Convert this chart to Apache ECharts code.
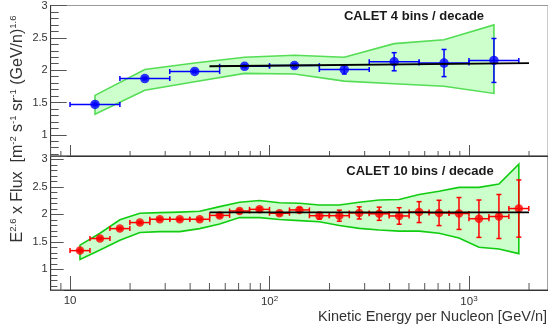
<!DOCTYPE html>
<html>
<head>
<meta charset="utf-8">
<script src="https://cdn.jsdelivr.net/npm/echarts@6/dist/echarts.min.js"></script>
<style>
  html, body { margin: 0; padding: 0; background: #fff; }
  #chart { width: 548px; height: 333px; }
</style>
</head>
<body>
<div id="chart"></div>
<script>
(function(){
  'use strict';

  const FONT = '"Liberation Sans", Arial, Helvetica, sans-serif';

  // CALET 4 bins / decade
  const topEdges = [10, 17.78, 31.62, 56.23, 100, 177.8, 316.2, 562.3, 1000, 1778];
  const topX = [13.34, 23.71, 42.17, 74.99, 133.4, 237.1, 421.7, 749.9, 1334];
  const topY = [1.47, 1.87, 1.98, 2.06, 2.07, 2.01, 2.13, 2.11, 2.15];
  const topErr = [0.02, 0.02, 0.02, 0.02, 0.03, 0.07, 0.14, 0.21, 0.34];
  const topBandHi = [1.61, 2.01, 2.11, 2.20, 2.23, 2.20, 2.41, 2.47, 2.70];
  const topBandLo = [1.32, 1.69, 1.82, 1.95, 1.94, 1.83, 1.79, 1.75, 1.64];
  const topFitX = [50, 2000];
  const topFitY = [2.06, 2.11];

  // CALET 10 bins / decade
  const botEdges = [10, 12.59, 15.85, 19.95, 25.12, 31.62, 39.81, 50.12, 63.10, 79.43,
    100, 125.9, 158.5, 199.5, 251.2, 316.2, 398.1, 501.2, 631.0, 794.3, 1000, 1259, 1585, 1995];
  const botX = [11.22, 14.13, 17.78, 22.39, 28.18, 35.48, 44.67, 56.23, 70.79, 89.13,
    112.2, 141.3, 177.8, 223.9, 281.8, 354.8, 446.7, 562.3, 707.9, 891.3, 1122, 1413, 1778];
  const botY = [1.34, 1.56, 1.74, 1.85, 1.91, 1.91, 1.91, 1.98, 2.06, 2.09,
    2.02, 2.08, 1.975, 1.975, 2.025, 2.01, 1.97, 2.04, 2.025, 2.015, 1.92, 1.96, 2.105];
  const botErr = [0.02, 0.02, 0.02, 0.02, 0.02, 0.02, 0.02, 0.03, 0.03, 0.03,
    0.03, 0.04, 0.06, 0.10, 0.11, 0.12, 0.15, 0.19, 0.23, 0.29, 0.34, 0.40, 0.52];
  const botBandHi = [1.44, 1.655, 1.90, 2.02, 2.03, 2.04, 2.055, 2.14, 2.22, 2.25,
    2.21, 2.20, 2.17, 2.17, 2.22, 2.26, 2.27, 2.36, 2.42, 2.49, 2.49, 2.55, 2.91];
  const botBandLo = [1.18, 1.35, 1.53, 1.67, 1.685, 1.685, 1.74, 1.825, 1.94, 1.94,
    1.905, 1.885, 1.865, 1.795, 1.745, 1.715, 1.695, 1.695, 1.655, 1.57, 1.40, 1.37, 1.285];
  const botFitX = [50, 2000];
  const botFitY = [2.035, 2.035];

  // log-axis minor tick positions
  const minorTicksX = [9, 20, 30, 40, 50, 60, 70, 80, 90, 200, 300, 400, 500, 600, 700, 800, 900, 2000];

  const xMin = 8, xMax = 2490;

  function errorBars(color){
    return function(params, api){
      const x = api.value(0), y = api.value(1), e = api.value(2);
      const lo = api.value(3), hi = api.value(4);
      const l = api.coord([lo, y]), r = api.coord([hi, y]);
      const t = api.coord([x, y + e]), b = api.coord([x, y - e]);
      const cap = 2.5;
      const segs = [
        [l, r],
        [[l[0], l[1] - cap], [l[0], l[1] + cap]],
        [[r[0], r[1] - cap], [r[0], r[1] + cap]],
        [t, b],
        [[t[0] - cap, t[1]], [t[0] + cap, t[1]]],
        [[b[0] - cap, b[1]], [b[0] + cap, b[1]]]
      ];
      return {
        type: 'group',
        children: segs.map((s)=>({
          type: 'line',
          shape: { x1: s[0][0], y1: s[0][1], x2: s[1][0], y2: s[1][1] },
          style: { stroke: color, lineWidth: 1.5 }
        }))
      };
    };
  }

  function band(xs, lo, hi, edge){
    return function(params, api){
      const up = xs.map((x, i)=>api.coord([x, hi[i]]));
      const dn = xs.map((x, i)=>api.coord([x, lo[i]]));
      return {
        type: 'polygon',
        shape: { points: up.concat(dn.reverse()) },
        style: { fill: '#ccffcc', stroke: edge, lineWidth: 1.6 }
      };
    };
  }

  function minorTicks(len){
    return function(params, api){
      const p = api.coord([api.value(0), api.value(1)]);
      const yb = params.coordSys.y + params.coordSys.height;
      return {
        type: 'line',
        shape: { x1: p[0], y1: yb, x2: p[0], y2: yb - len },
        style: { stroke: '#555', lineWidth: 1 }
      };
    };
  }

  function xAxisCfg(gridIndex, showLabels, tickLen){
    return {
      type: 'log', logBase: 10, gridIndex: gridIndex, min: xMin, max: xMax,
      axisLine: { show: true, lineStyle: { color: '#333', width: 1 } },
      axisTick: { show: true, inside: true, length: tickLen, lineStyle: { color: '#555' } },
      splitLine: { show: false },
      axisLabel: {
        show: showLabels, showMinLabel: false, showMaxLabel: false,
        margin: 5, fontFamily: FONT, fontSize: 11.5, color: '#333',
        formatter: function(v){
          const e = Math.round(Math.log10(v));
          return e === 1 ? '10' : '10{s|' + e + '}';
        },
        rich: { s: { fontSize: 8, fontFamily: FONT, color: '#333', verticalAlign: 'top', padding: [0, 0, 6, 0] } }
      }
    };
  }

  function yAxisCfg(gridIndex, min, max, majorLen, minorLen, showMax){
    return {
      type: 'value', gridIndex: gridIndex, min: min, max: max,
      axisLine: { show: true, lineStyle: { color: '#333', width: 1 } },
      axisTick: { show: true, inside: true, length: majorLen, lineStyle: { color: '#555' } },
      minorTick: { show: true, splitNumber: 5, length: minorLen, lineStyle: { color: '#555' } },
      splitLine: { show: false },
      axisLabel: {
        showMinLabel: false, showMaxLabel: showMax, margin: 3,
        fontFamily: FONT, fontSize: 11, color: '#333'
      }
    };
  }

  function pts(xs, ys, errs, edges){
    return xs.map((x, i)=>[x, ys[i], errs[i], edges[i], edges[i + 1]]);
  }

  const chart = echarts.init(document.getElementById('chart'), null, { renderer: 'canvas' });

  chart.setOption({
    animation: false,
    backgroundColor: '#fff',
    grid: [
      { left: 50.7, top: 5, right: 0, height: 151, show: true, borderColor: '#999', borderWidth: 1 },
      { left: 50.7, top: 156, right: 0, height: 134, show: true, borderColor: '#444', borderWidth: 1 }
    ],
    xAxis: [xAxisCfg(0, false, 11), xAxisCfg(1, true, 14)],
    yAxis: [yAxisCfg(0, 0.672, 3, 16, 8, true), yAxisCfg(1, 0.624, 3.06, 13, 6.7, false)],
    series: [
      { type: 'custom', xAxisIndex: 0, yAxisIndex: 0, z: 1, silent: true,
        renderItem: band(topX, topBandLo, topBandHi, '#55dd55'), data: [[topX[0], topBandLo[0]]] },
      { type: 'custom', xAxisIndex: 1, yAxisIndex: 1, z: 1, silent: true,
        renderItem: band(botX, botBandLo, botBandHi, '#11cc11'), data: [[botX[0], botBandLo[0]]] },
      { type: 'custom', xAxisIndex: 0, yAxisIndex: 0, z: 2, silent: true,
        renderItem: errorBars('#0000ff'), data: pts(topX, topY, topErr, topEdges) },
      { type: 'custom', xAxisIndex: 1, yAxisIndex: 1, z: 2, silent: true,
        renderItem: errorBars('#ff0000'), data: pts(botX, botY, botErr, botEdges) },
      { type: 'scatter', xAxisIndex: 0, yAxisIndex: 0, z: 3, symbol: 'circle', symbolSize: 9.5,
        itemStyle: { color: '#0000ff' }, data: topX.map((x, i)=>[x, topY[i]]) },
      { type: 'scatter', xAxisIndex: 1, yAxisIndex: 1, z: 3, symbol: 'circle', symbolSize: 8.5,
        itemStyle: { color: '#ff0000' }, data: botX.map((x, i)=>[x, botY[i]]) },
      { type: 'line', xAxisIndex: 0, yAxisIndex: 0, z: 4, symbol: 'none',
        lineStyle: { color: '#000', width: 1.8 }, data: topFitX.map((x, i)=>[x, topFitY[i]]) },
      { type: 'line', xAxisIndex: 1, yAxisIndex: 1, z: 4, symbol: 'none',
        lineStyle: { color: '#000', width: 1.8 }, data: botFitX.map((x, i)=>[x, botFitY[i]]) },
      { type: 'custom', xAxisIndex: 0, yAxisIndex: 0, z: 5, silent: true,
        renderItem: minorTicks(5), data: minorTicksX.map((v)=>[v, 1]) },
      { type: 'custom', xAxisIndex: 1, yAxisIndex: 1, z: 5, silent: true,
        renderItem: minorTicks(7), data: minorTicksX.map((v)=>[v, 1]) }
    ],
    graphic: [
      { type: 'text', x: 414, y: 16, silent: true,
        style: { text: 'CALET 4 bins / decade', fontFamily: FONT, fontSize: 13, fontWeight: 'bold',
          fill: '#1a1a1a', align: 'center', verticalAlign: 'middle' } },
      { type: 'text', x: 420, y: 171, silent: true,
        style: { text: 'CALET 10 bins / decade', fontFamily: FONT, fontSize: 13, fontWeight: 'bold',
          fill: '#1a1a1a', align: 'center', verticalAlign: 'middle' } },
      { type: 'text', x: 547, y: 316.5, silent: true,
        style: { text: 'Kinetic Energy per Nucleon [GeV/n]', fontFamily: FONT, fontSize: 14.5,
          fill: '#333', align: 'right', verticalAlign: 'middle' } },
      { type: 'text', x: 18, y: 129, rotation: Math.PI / 2, silent: true,
        style: {
          text: 'E{s|2.6} x Flux  [m{s|-2} s{s|-1} sr{s|-1} (GeV/n){s|1.6}',
          fontFamily: FONT, fontSize: 16, lineHeight: 20, fill: '#333',
          align: 'center', verticalAlign: 'middle',
          rich: { s: { fontFamily: FONT, fontSize: 9.5, lineHeight: 10, fill: '#333', verticalAlign: 'top' } }
        } }
    ]
  });
})();
</script>
</body>
</html>
